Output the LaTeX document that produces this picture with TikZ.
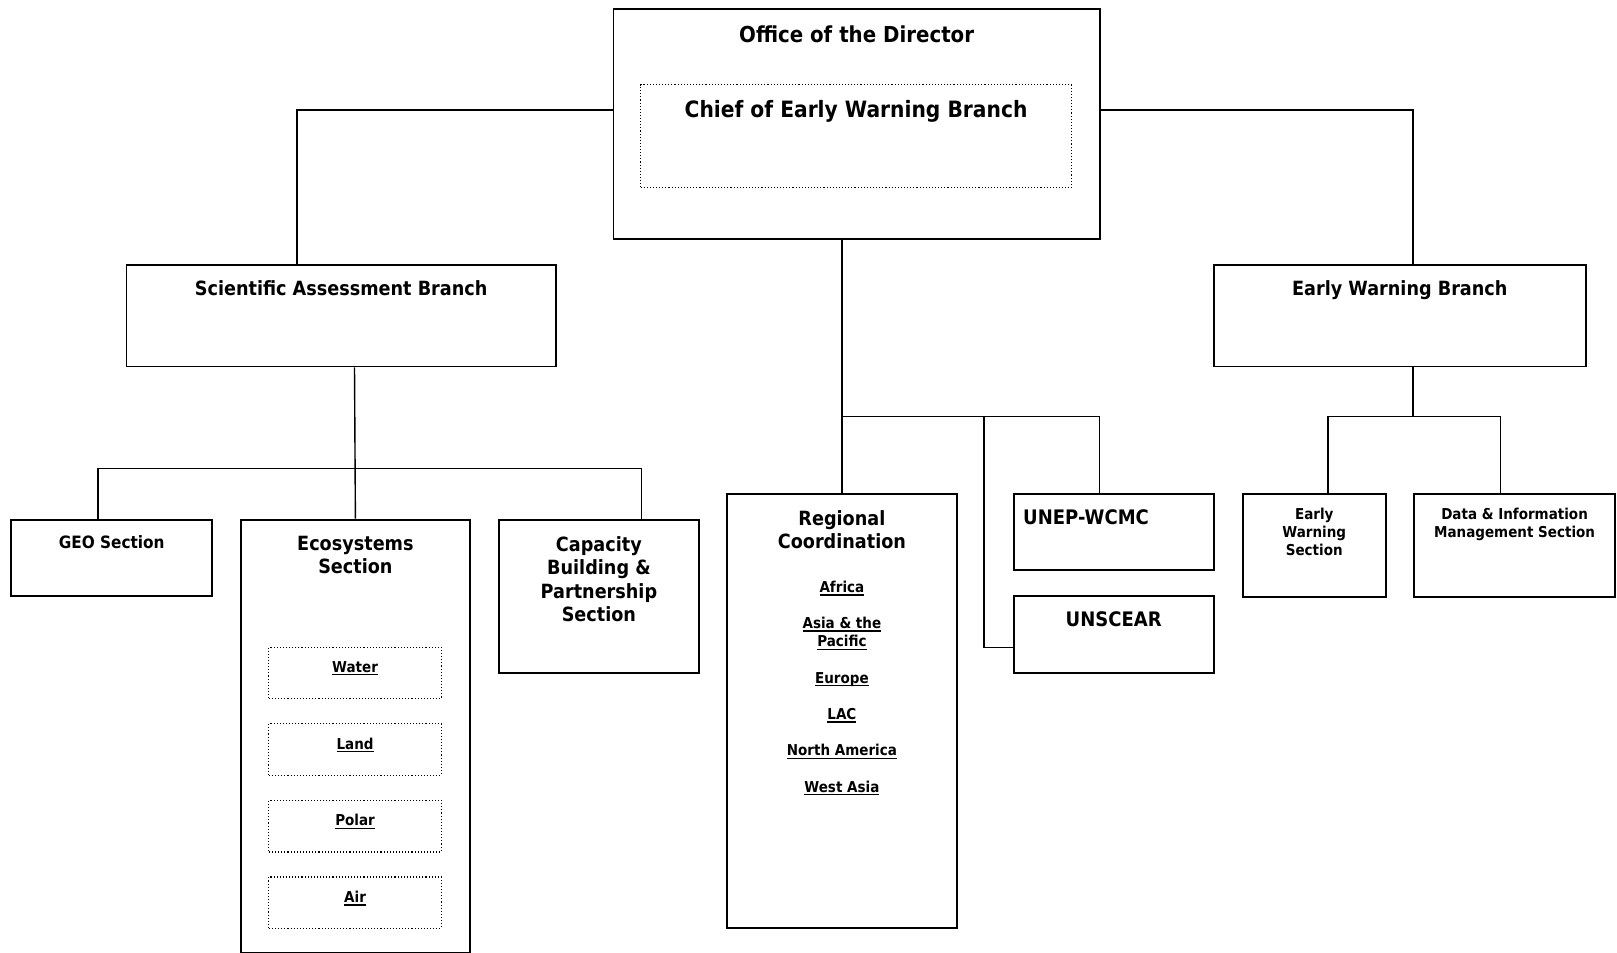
\documentclass[tikz,border=0pt]{standalone}
\usepackage{fontspec}
\setmainfont{DejaVu Sans}[FakeStretch=0.9]
\usetikzlibrary{positioning}

\newcommand\boxfont[2]{\fontsize{#1}{#2}\selectfont\bfseries}
\newcommand\regline[1]{\leavevmode\setbox0\hbox{#1}\rlap{\rule[-3.2pt]{\wd0}{1.4pt}}\box0}

\begin{document}
\begin{tikzpicture}[x=1pt,y=-1pt,
    main box/.style={draw,line width=1.8pt,anchor=north west,inner sep=0pt},
    sub box/.style={draw,dotted,line width=1.1pt,anchor=north west,inner sep=0pt},
    head/.style={anchor=north,align=center,inner sep=0pt},
    link/.style={line width=1.4pt}]

  \useasboundingbox (0,0) rectangle (1617,953);

  \node[main box,minimum width=486.5pt,minimum height=229.4pt] (dir) at (612.5,8.3) {};
  \node[sub box,minimum width=431pt,minimum height=103pt] (chief) at (640,84.3) {};
  \node[main box,minimum width=429.5pt,minimum height=101.5pt] (sab) at (125.5,264) {};
  \node[main box,minimum width=372.2pt,minimum height=101.5pt] (ewb) at (1212.8,264) {};
  \node[main box,minimum width=201.1pt,minimum height=76.3pt] (geo) at (10.3,518.7) {};
  \node[main box,minimum width=229pt,minimum height=433pt] (eco) at (240,518.7) {};
  \node[main box,minimum width=200pt,minimum height=153.7pt] (cap) at (498,518.7) {};
  \node[main box,minimum width=230pt,minimum height=434pt] (reg) at (726,493) {};
  \node[main box,minimum width=200.1pt,minimum height=76.3pt] (wcmc) at (1012.7,493) {};
  \node[main box,minimum width=200.1pt,minimum height=77.4pt] (unscear) at (1012.7,595) {};
  \node[main box,minimum width=143.3pt,minimum height=102.7pt] (ews) at (1241.7,493.3) {};
  \node[main box,minimum width=200.7pt,minimum height=102.7pt] (dim) at (1413.3,493.3) {};

  \node[sub box,minimum width=172.4pt,minimum height=51.6pt] (water) at (268.3,646.6) {};
  \node[sub box,minimum width=172.4pt,minimum height=51.6pt] (land) [below=23.9pt of water] {};
  \node[sub box,minimum width=172.4pt,minimum height=51.6pt] (polar) [below=23.9pt of land] {};
  \node[sub box,minimum width=172.4pt,minimum height=51.6pt] (air) [below=23.9pt of polar] {};

  \node[head,font=\boxfont{22}{26}] (dirtxt) [below=17.3pt of dir.north] {Office of the Director};
  \node[head,font=\boxfont{22.5}{27}] (chieftxt) [below=15.7pt of chief.north] {Chief of Early Warning Branch};
  \node[head,font=\boxfont{19.6}{23.5}] (sabtxt) [below=16pt of sab.north] {Scientific Assessment Branch};
  \node[head,font=\boxfont{19.6}{23.5}] (ewbtxt) [below=16pt of ewb.north] {Early Warning Branch};
  \node[head,font=\boxfont{17}{20}] (geotxt) [below=16.3pt of geo.north] {GEO Section};
  \node[head,font=\boxfont{19.6}{23.5}] (ecotxt) [below=17.3pt of eco.north] {Ecosystems\\Section};
  \node[head,font=\boxfont{19.6}{23.6}] (captxt) [below=17.3pt of cap.north] {Capacity\\Building \&\\Partnership\\Section};
  \node[head,font=\boxfont{19.6}{23.3}] (regtxt) [below=17pt of reg.north] {Regional\\Coordination};
  \node[head,font=\boxfont{15}{18.3}] (regions) [below=87.7pt of reg.north]
    {\regline{Africa}\\[18pt]\regline{Asia \& the}\\\regline{Pacific}\\[18pt]\regline{Europe}\\[18pt]%
     \regline{LAC}\\[18pt]\regline{North America}\\[18pt]\regline{West Asia}};
  \node[head,anchor=north west,font=\boxfont{20}{24}] (wcmctxt) at ([xshift=10.3pt,yshift=-16pt]wcmc.north west) {UNEP-WCMC};
  \node[head,font=\boxfont{20}{24}] (unsceartxt) [below=16.4pt of unscear.north] {UNSCEAR};
  \node[head,font=\boxfont{15}{18}] (ewstxt) [below=15pt of ews.north] {Early\\Warning\\Section};
  \node[head,font=\boxfont{15}{18}] (dimtxt) [below=15pt of dim.north] {Data \& Information\\Management Section};
  \node[head,font=\boxfont{15}{18}] (watertxt) [below=14.3pt of water.north] {\regline{Water}};
  \node[head,font=\boxfont{15}{18}] (landtxt) [below=14.3pt of land.north] {\regline{Land}};
  \node[head,font=\boxfont{15}{18}] (polartxt) [below=14.3pt of polar.north] {\regline{Polar}};
  \node[head,font=\boxfont{15}{18}] (airtxt) [below=14.3pt of air.north] {\regline{Air}};

  \coordinate (lft) at (297,110);
  \coordinate (rgt) at (1413,110);
  \coordinate (midbar) at (841,416.6);
  \coordinate (unbar) at (983.8,416.6);
  \coordinate (sabbar) at (354.5,468.2);
  \coordinate (ewbbar) at (1413,416.6);

  \draw[link] (dir.west |- lft) -| (sab.north -| lft);
  \draw[link] (dir.east |- rgt) -| (ewb.north -| rgt);
  \draw[link] (reg.north |- dir.south) -- (reg.north);
  \draw[link] (midbar) -| ([xshift=-14.4pt]wcmc.north);
  \draw[link] (unbar) |- ([yshift=-12.9pt]unscear.west);
  \draw[link] (sab.south -| sabbar) -- (eco.north);
  \draw[link] ([xshift=-13.9pt]geo.north) |- (sabbar) -| ([xshift=42.4pt]cap.north);
  \draw[link] (ewb.south -| ewbbar) -- (ewbbar);
  \draw[link] ([xshift=13.9pt]ews.north) |- (ewbbar) -| ([xshift=-14.3pt]dim.north);
\end{tikzpicture}
\end{document}
